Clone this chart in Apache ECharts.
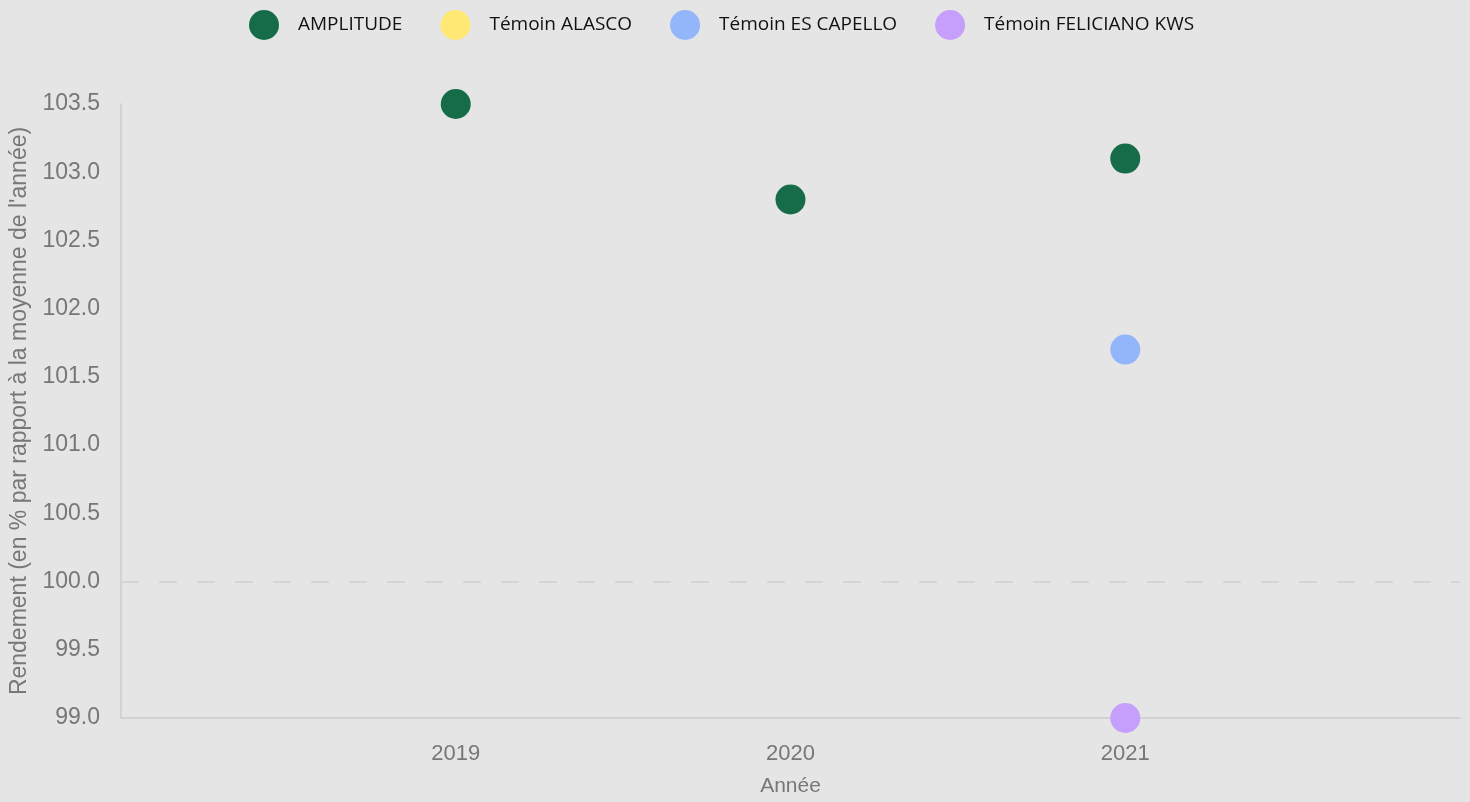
<!DOCTYPE html>
<html>
<head>
<meta charset="utf-8">
<title>Rendement</title>
<script src="https://cdn.jsdelivr.net/npm/echarts@6/dist/echarts.min.js"></script>
<style>
html,body{margin:0;padding:0;background:#e5e5e5;}
#main{width:1470px;height:802px;}
</style>
</head>
<body>
<div id="main"></div>
<script>
// data
var seriesNames = ['AMPLITUDE', 'Témoin ALASCO', 'Témoin ES CAPELLO', 'Témoin FELICIANO KWS'];
var seriesColors = ['#166c48', '#ffe873', '#93b6fb', '#c59ffb'];
var amplitude = [[2019, 103.5], [2020, 102.8], [2021, 103.1]];
var alasco = [];
var esCapello = [[2021, 101.7]];
var feliciano = [[2021, 99.0]];
var yearLabels = [2019, 2020, 2021];
var refLine = 100;

var allData = [amplitude, alasco, esCapello, feliciano];

var chart = echarts.init(document.getElementById('main'));

var series = [];
for (var i = 0; i < seriesNames.length; i++) {
    series.push({
        name: seriesNames[i],
        type: 'scatter',
        symbolSize: 30,
        data: allData[i],
        itemStyle: { color: seriesColors[i], opacity: 1 }
    });
}
// dashed reference line
series[0].markLine = {
    silent: true,
    symbol: 'none',
    label: { show: false },
    lineStyle: { color: '#cfcfcf', type: [18, 20], width: 1.5 },
    data: [{ yAxis: refLine }]
};

var option = {
    backgroundColor: '#e5e5e5',
    animation: false,
    legend: {
        top: 5,
        left: 244,
        itemWidth: 30,
        itemHeight: 30,
        itemGap: 38,
        icon: 'circle',
        textStyle: { fontFamily: 'Open Sans', fontSize: 19, color: '#111', padding: [0, 0, 0, 14] },
        data: seriesNames
    },
    grid: { left: 121, right: 10, top: 104, bottom: 84, containLabel: false, outerBoundsMode: 'none' },
    xAxis: {
        type: 'value',
        min: 2018,
        max: 2022,
        interval: 1,
        name: 'Année',
        nameLocation: 'middle',
        nameGap: 58,
        nameTextStyle: { fontFamily: 'Liberation Sans', fontSize: 21, color: '#777' },
        axisLine: { show: true, lineStyle: { color: '#cccccc', width: 1.5 } },
        axisTick: { show: false },
        splitLine: { show: false },
        axisLabel: {
            margin: 25,
            fontFamily: 'Liberation Sans',
            fontSize: 22,
            color: '#777',
            formatter: function (v) {
                return yearLabels.indexOf(v) >= 0 ? String(v) : '';
            }
        }
    },
    yAxis: {
        type: 'value',
        min: 99,
        max: 103.5,
        interval: 0.5,
        name: "Rendement (en % par rapport à la moyenne de l'année)",
        nameLocation: 'middle',
        nameGap: 88,
        nameTextStyle: { fontFamily: 'Liberation Sans', fontSize: 23, color: '#777' },
        axisLine: { show: true, lineStyle: { color: '#cccccc', width: 1.5 } },
        axisTick: { show: false },
        splitLine: { show: false },
        axisLabel: {
            margin: 21,
            fontFamily: 'Liberation Sans',
            fontSize: 23,
            color: '#777',
            formatter: function (v) { return v.toFixed(1); }
        }
    },
    series: series
};

chart.setOption(option);
</script>
</body>
</html>
